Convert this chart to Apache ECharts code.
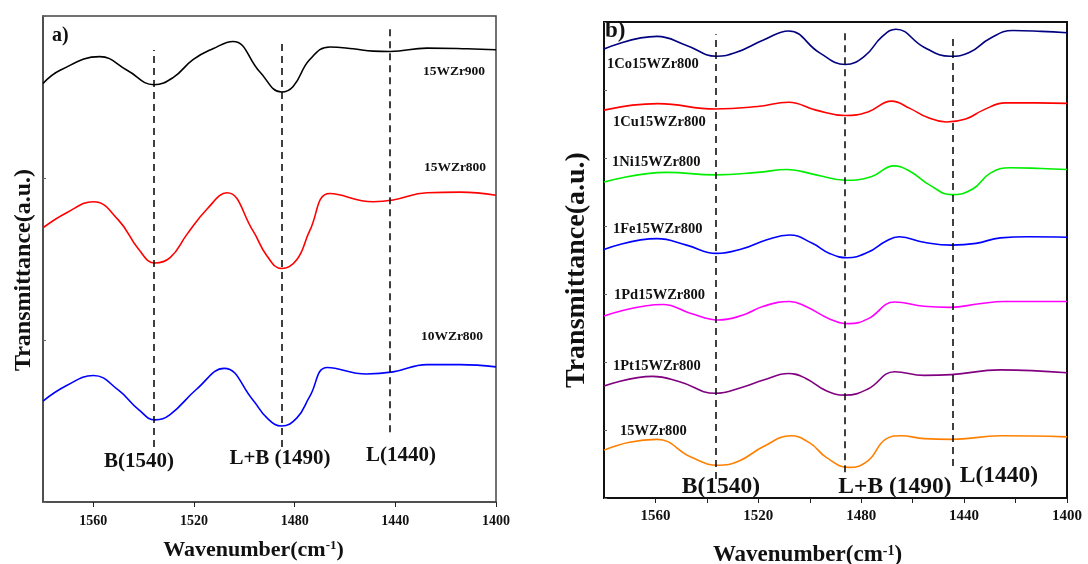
<!DOCTYPE html>
<html>
<head>
<meta charset="utf-8">
<script src="https://cdn.jsdelivr.net/npm/echarts@6/dist/echarts.min.js"></script>
<style>
  html, body { margin: 0; padding: 0; background: #fff; }
  #chart { width: 1088px; height: 564px; }
</style>
</head>
<body>
<div id="chart"></div>
<script>
// x = wavenumber (cm-1), y = transmittance (a.u., offset stacked)
var xTicks = [1560, 1520, 1480, 1440, 1400];

// panel a)
var a_15WZr900 = [[1580, 2.583], [1573.2, 2.665], [1557.4, 2.749], [1546.6, 2.665], [1535.9, 2.576], [1528.3, 2.62], [1520.4, 2.731], [1512.5, 2.798], [1504.5, 2.843], [1493.8, 2.654], [1485.2, 2.531], [1480.6, 2.565], [1474, 2.731], [1466, 2.809], [1456.8, 2.798], [1448.8, 2.783], [1442.1, 2.781], [1427.4, 2.802], [1411.5, 2.798], [1400, 2.792]];
var a_15WZr800 = [[1580, 1.693], [1570.6, 1.786], [1560, 1.853], [1550, 1.74], [1542, 1.56], [1535.5, 1.475], [1529.5, 1.508], [1522.8, 1.652], [1514.8, 1.809], [1506.9, 1.909], [1496.6, 1.675], [1491, 1.519], [1485.2, 1.441], [1479.1, 1.497], [1474, 1.675], [1466, 1.904], [1448.8, 1.853], [1440.9, 1.864], [1427.4, 1.909], [1414.3, 1.913], [1400, 1.893]];
var a_10WZr800 = [[1580, 0.623], [1570.6, 0.719], [1560, 0.781], [1550, 0.69], [1542, 0.57], [1535.5, 0.507], [1529.5, 0.54], [1519, 0.696], [1508, 0.825], [1496.6, 0.63], [1491, 0.519], [1485.2, 0.469], [1479.1, 0.519], [1474, 0.652], [1467, 0.83], [1451.5, 0.79], [1440.9, 0.803], [1427.4, 0.848], [1414.3, 0.848], [1400, 0.834]];

// panel b)
var b_Co = [[1580, 6.603], [1559.4, 6.788], [1547.9, 6.656], [1536.3, 6.497], [1528.8, 6.55], [1518, 6.735], [1508.2, 6.867], [1496.3, 6.55], [1486.2, 6.375], [1478.7, 6.497], [1472, 6.78], [1466.5, 6.894], [1455.6, 6.63], [1445.4, 6.497], [1438, 6.55], [1429.8, 6.762], [1421, 6.875], [1410, 6.862], [1400, 6.841]];
var b_Cu = [[1580, 5.704], [1559, 5.799], [1536.7, 5.72], [1520.3, 5.757], [1508.2, 5.82], [1497.6, 5.704], [1486.2, 5.624], [1477.4, 5.677], [1468.2, 5.836], [1461.1, 5.73], [1454.3, 5.598], [1446.9, 5.529], [1439.4, 5.572], [1432.6, 5.704], [1424, 5.81], [1412, 5.81], [1400, 5.804]];
var b_Ni = [[1580, 4.646], [1555.7, 4.788], [1536.7, 4.752], [1520.3, 4.788], [1508.7, 4.831], [1497.6, 4.752], [1486.2, 4.673], [1476.1, 4.725], [1467.3, 4.884], [1461.1, 4.805], [1453, 4.593], [1444.9, 4.461], [1436.8, 4.54], [1429.8, 4.778], [1422, 4.857], [1410, 4.846], [1400, 4.831]];
var b_Fe = [[1580, 3.656], [1559.4, 3.814], [1547.9, 3.719], [1536.3, 3.597], [1526.2, 3.666], [1516.7, 3.798], [1507.9, 3.867], [1499, 3.745], [1492.3, 3.597], [1485.5, 3.534], [1477.4, 3.613], [1470.6, 3.772], [1465.2, 3.841], [1455.6, 3.761], [1444.9, 3.719], [1435.4, 3.745], [1425.9, 3.825], [1414.9, 3.841], [1400, 3.835]];
var b_Pd = [[1580, 2.677], [1557.1, 2.846], [1546.2, 2.714], [1535.6, 2.618], [1526.2, 2.687], [1518, 2.82], [1507.9, 2.889], [1501.7, 2.82], [1492.3, 2.634], [1484.8, 2.565], [1477.4, 2.634], [1467, 2.883], [1455.6, 2.82], [1445.4, 2.803], [1434.1, 2.856], [1424.4, 2.889], [1400, 2.889]];
var b_Pt = [[1580, 1.646], [1561.1, 1.788], [1550.6, 1.709], [1536.7, 1.54], [1526.2, 1.629], [1518, 1.735], [1508.2, 1.831], [1501.7, 1.762], [1493.6, 1.577], [1486.2, 1.513], [1477.4, 1.603], [1467, 1.857], [1455.6, 1.804], [1444.9, 1.815], [1425.9, 1.884], [1400, 1.841]];
var b_15WZr800 = [[1580, 0.704], [1570.1, 0.82], [1559.4, 0.862], [1546, 0.598], [1535.6, 0.482], [1527.5, 0.545], [1518, 0.757], [1507.4, 0.915], [1500, 0.81], [1493.6, 0.598], [1484.8, 0.45], [1477.4, 0.545], [1470.6, 0.862], [1464.5, 0.915], [1455.6, 0.873], [1444.9, 0.862], [1425.9, 0.915], [1400, 0.899]];

// dashed guide lines: [wavenumber, yFrom, yTo]
var aGuides = [[1535.9, 0.34, 2.79], [1485.2, 0.34, 2.84], [1442.4, 0.43, 2.92]];
var bGuides = [[1536.7, 0.28, 6.82], [1486.4, 0.38, 6.89], [1444.3, 0.47, 6.82]];
var peakNames = ['B(1540)', 'L+B (1490)', 'L(1440)'];

var serif = '"Liberation Serif", "Times New Roman", serif';

function guideLines(g) {
  return g.map(function (d) {
    return [{ coord: [d[0], d[1]] }, { coord: [d[0], d[2]] }];
  });
}

function line(name, data, color, xi, guides) {
  var s = {
    name: name,
    type: 'line',
    xAxisIndex: xi,
    yAxisIndex: xi,
    data: data,
    smooth: 0.45,
    showSymbol: false,
    lineStyle: { color: color, width: 1.6 },
    z: 3
  };
  if (guides) {
    s.markLine = {
      silent: true,
      symbol: ['none', 'none'],
      label: { show: false },
      lineStyle: { color: '#000', type: [7, 5], width: 1.5 },
      data: guideLines(guides)
    };
  }
  return s;
}

function xAx(gi, fs, minor) {
  return {
    gridIndex: gi,
    type: 'value',
    min: 1400,
    max: 1580,
    interval: 40,
    inverse: true,
    axisLine: { lineStyle: { color: gi ? '#111' : '#444', width: gi ? 2 : 1.5 } },
    axisTick: { inside: false, length: 5, lineStyle: { color: '#222' }, customValues: xTicks },
    minorTick: { show: minor, splitNumber: 2, length: 5, lineStyle: { color: '#222' } },
    splitLine: { show: false },
    axisLabel: {
      customValues: xTicks,
      formatter: function (v) { return String(v); },
      fontFamily: serif, fontWeight: 'bold', fontSize: fs, color: '#111', margin: gi ? 11 : 12
    },
    name: 'Wavenumber(cm{sup|-1})',
    nameLocation: 'middle',
    nameGap: gi ? 46 : 37,
    nameTextStyle: {
      fontFamily: serif, fontWeight: 'bold', fontSize: gi ? 23 : 22, color: '#111',
      padding: gi ? [0, 56, 0, 0] : [0, 32, 0, 0],
      rich: {
        sup: { fontFamily: serif, fontWeight: 'bold', fontSize: gi ? 14 : 13, color: '#111', verticalAlign: 'top', padding: [0, 0, 8, 0] }
      }
    }
  };
}

function yAx(gi, max) {
  return {
    gridIndex: gi,
    type: 'value',
    min: 0,
    max: max,
    interval: 1,
    axisLine: { show: true, lineStyle: { color: gi ? '#111' : '#444', width: gi ? 2 : 1.5 } },
    axisTick: { show: true, inside: true, length: 3, lineStyle: { color: '#666' } },
    axisLabel: { show: false },
    splitLine: { show: false },
    name: 'Transmittance(a.u.)',
    nameLocation: 'middle',
    nameGap: gi ? 13 : 7,
    nameTextStyle: {
      fontFamily: serif, fontWeight: 'bold', fontSize: gi ? 28 : 24, color: '#111',
      padding: gi ? [0, 20, 0, 0] : [0, 22, 0, 0]
    }
  };
}

function txt(x, y, s, fs, align) {
  return {
    type: 'text', x: x, y: y, z: 10,
    style: {
      text: s, fontFamily: serif, fontWeight: 'bold', fontSize: fs,
      fill: '#111', align: align || 'left', verticalAlign: 'middle'
    }
  };
}

var chart = echarts.init(document.getElementById('chart'));

var option = {
  backgroundColor: '#fff',
  animation: false,
  grid: [
    { left: 43, top: 16, width: 453, height: 486, show: true, borderColor: '#444', borderWidth: 1.5, outerBoundsMode: 'none' },
    { left: 604, top: 22, width: 463, height: 476, show: true, borderColor: '#111', borderWidth: 2, outerBoundsMode: 'none' }
  ],
  xAxis: [xAx(0, 14, false), xAx(1, 15, true)],
  yAxis: [yAx(0, 3), yAx(1, 7)],
  graphic: [
    txt(52, 36, 'a)', 20),
    txt(454, 72, '15WZr900', 13.5, 'center'),
    txt(455, 168, '15WZr800', 13.5, 'center'),
    txt(452, 337, '10WZr800', 13.5, 'center'),
    txt(139, 462, peakNames[0], 21, 'center'),
    txt(280, 459, peakNames[1], 21, 'center'),
    txt(401, 456, peakNames[2], 21, 'center'),

    txt(605, 31, 'b)', 23),
    txt(607, 64, '1Co15WZr800', 14.5),
    txt(613, 122, '1Cu15WZr800', 14.5),
    txt(612, 162, '1Ni15WZr800', 14.5),
    txt(613, 229, '1Fe15WZr800', 14.5),
    txt(614, 295, '1Pd15WZr800', 14.5),
    txt(613, 366, '1Pt15WZr800', 14.5),
    txt(620, 431, '15WZr800', 14.5),
    txt(721, 487, peakNames[0], 23.5, 'center'),
    txt(895, 487, peakNames[1], 23.5, 'center'),
    txt(999, 476, peakNames[2], 23.5, 'center')
  ],
  series: [
    line('15WZr900', a_15WZr900, '#000', 0, aGuides),
    line('15WZr800', a_15WZr800, '#ff0000', 0),
    line('10WZr800', a_10WZr800, '#0000ff', 0),

    line('1Co15WZr800', b_Co, '#000080', 1, bGuides),
    line('1Cu15WZr800', b_Cu, '#ff0000', 1),
    line('1Ni15WZr800', b_Ni, '#00ee00', 1),
    line('1Fe15WZr800', b_Fe, '#0000ff', 1),
    line('1Pd15WZr800', b_Pd, '#ff00ff', 1),
    line('1Pt15WZr800', b_Pt, '#800080', 1),
    line('15WZr800', b_15WZr800, '#ff8000', 1)
  ]
};

chart.setOption(option);
</script>
</body>
</html>
